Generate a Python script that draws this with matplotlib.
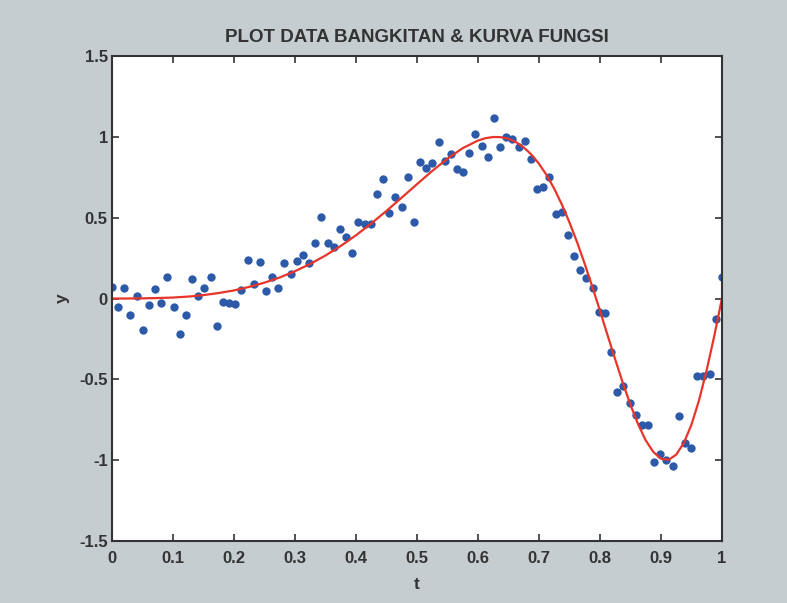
import numpy as np
from matplotlib import pyplot as plt

# generated data points, t = linspace(0, 1, 100)
t_data = np.linspace(0, 1, 100)
y_data = [0.072, -0.052, 0.062, -0.103, 0.016, -0.192, -0.043, 0.056, -0.027, 0.130,
          -0.052, -0.221, -0.105, 0.121, 0.016, 0.068, 0.130, -0.170, -0.021, -0.025,
          -0.037, 0.051, 0.237, 0.087, 0.227, 0.045, 0.130, 0.062, 0.219, 0.149,
          0.235, 0.272, 0.220, 0.344, 0.503, 0.345, 0.318, 0.431, 0.381, 0.282,
          0.474, 0.458, 0.460, 0.644, 0.739, 0.532, 0.629, 0.565, 0.749, 0.474,
          0.844, 0.805, 0.838, 0.970, 0.848, 0.893, 0.800, 0.782, 0.902, 1.015,
          0.943, 0.875, 1.118, 0.935, 0.997, 0.985, 0.935, 0.972, 0.864, 0.679,
          0.688, 0.753, 0.522, 0.534, 0.392, 0.266, 0.175, 0.124, 0.066, -0.083,
          -0.087, -0.330, -0.580, -0.543, -0.646, -0.718, -0.782, -0.782, -1.014, -0.964,
          -1.001, -1.036, -0.729, -0.894, -0.925, -0.481, -0.477, -0.464, -0.124, 0.132]

# function curve
t_curve = [0.000, 0.025, 0.050, 0.075, 0.100, 0.125, 0.150, 0.175, 0.200, 0.225,
           0.250, 0.275, 0.300, 0.325, 0.350, 0.375, 0.400, 0.425, 0.450, 0.475,
           0.500, 0.525, 0.550, 0.575, 0.600, 0.6125, 0.625, 0.6375, 0.650, 0.6625,
           0.675, 0.6875, 0.700, 0.7125, 0.725, 0.7375, 0.750, 0.7625, 0.775, 0.7875,
           0.800, 0.8125, 0.825, 0.8375, 0.850, 0.8625, 0.875, 0.8875, 0.900, 0.9125,
           0.925, 0.9375, 0.950, 0.9625, 0.975, 0.9875, 1.000]
y_curve = [0.000, 0.000, 0.001, 0.003, 0.006, 0.012, 0.021, 0.034, 0.050, 0.072,
           0.098, 0.130, 0.169, 0.214, 0.266, 0.325, 0.391, 0.464, 0.542, 0.624,
           0.707, 0.789, 0.865, 0.930, 0.977, 0.992, 0.999, 0.998, 0.988, 0.967,
           0.935, 0.891, 0.834, 0.764, 0.680, 0.582, 0.471, 0.349, 0.215, 0.073,
           -0.075, -0.227, -0.376, -0.522, -0.657, -0.777, -0.877, -0.949, -0.991, -0.998,
           -0.966, -0.894, -0.781, -0.629, -0.443, -0.231, 0.000]

xticks = [0, 0.1, 0.2, 0.3, 0.4, 0.5, 0.6, 0.7, 0.8, 0.9, 1]
xtick_labels = ['0', '0.1', '0.2', '0.3', '0.4', '0.5', '0.6', '0.7', '0.8', '0.9', '1']
yticks = [-1.5, -1, -0.5, 0, 0.5, 1, 1.5]
ytick_labels = ['-1.5', '-1', '-0.5', '0', '0.5', '1', '1.5']

plt.rcParams['font.family'] = ['Liberation Sans', 'DejaVu Sans']
txt = '#333333'

fig = plt.figure(figsize=(7.87, 6.03), dpi=100)
fig.patch.set_facecolor('#c5cdd1')
ax = fig.add_axes([0.1423, 0.1028, 0.775, 0.8043])
ax.set_facecolor('white')

ax.plot(t_data, y_data, 'o', color='#2d5aa8', markersize=6, markeredgewidth=0)
ax.plot(t_curve, y_curve, '-', color='#e8352a', linewidth=1.6)

ax.set_xlim(0, 1)
ax.set_ylim(-1.5, 1.5)
ax.set_xticks(xticks)
ax.set_xticklabels(xtick_labels)
ax.set_yticks(yticks)
ax.set_yticklabels(ytick_labels)
ax.tick_params(direction='in', top=True, right=True, length=5, width=1.2,
               labelsize=12, colors=txt)
ax.tick_params(axis='x', pad=7)
ax.tick_params(axis='y', pad=3)
for lbl in ax.get_xticklabels() + ax.get_yticklabels():
    lbl.set_fontweight('bold')
for sp in ax.spines.values():
    sp.set_color(txt)
    sp.set_linewidth(1.5)

ax.set_title('PLOT DATA BANGKITAN & KURVA FUNGSI', fontsize=13.5, fontweight='bold',
             color=txt, pad=10)
ax.set_xlabel('t', fontsize=12.5, fontweight='bold', color=txt, labelpad=8)
ax.set_ylabel('y', fontsize=12.5, fontweight='bold', color=txt, labelpad=7)

plt.savefig('out.png', dpi=100, facecolor=fig.get_facecolor())
